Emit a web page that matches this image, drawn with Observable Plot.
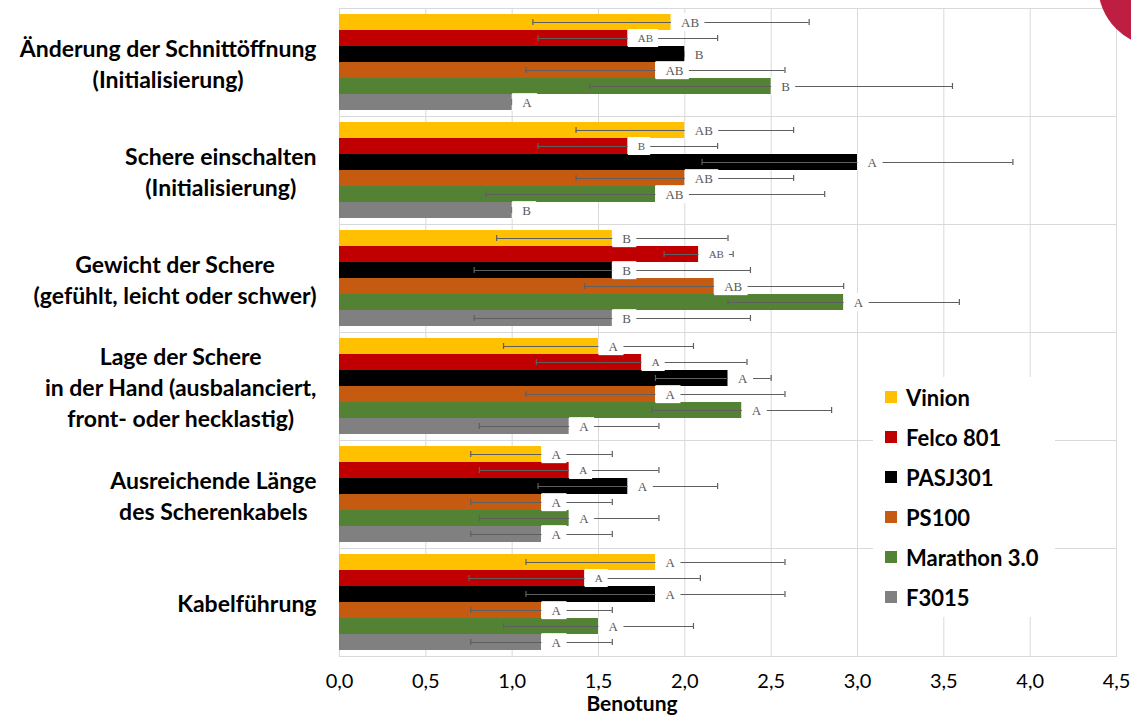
<!DOCTYPE html>
<html>
<head>
<meta charset="utf-8">
<script src="https://cdn.jsdelivr.net/npm/d3@7"></script>
<script src="https://cdn.jsdelivr.net/npm/@observablehq/plot@0.6"></script>
<style>
  body { margin: 0; background: #fff; }
  #wrap { position: relative; width: 1131px; height: 716px; overflow: hidden; font-family: Lato, "Open Sans", sans-serif; background: #fff; }
  #wrap svg { position: absolute; left: 0; top: 0; }
  #corner { position: absolute; left: 1098px; top: -77px; width: 124px; height: 124px; border-radius: 50%; background: #BD1E41; z-index: 5; }
  #xlabel { position: absolute; top: 692px; left: 532px; width: 200px; text-align: center; font-weight: bold; font-size: 21px; line-height: 21px; color: #000; }
  #legend { position: absolute; left: 873px; top: 377px; width: 182px; background: #fff; }
  #legend .row { height: 40px; display: flex; align-items: center; font-weight: bold; font-size: 22px; color: #000; white-space: nowrap; }
  #legend .sw { width: 12px; height: 12px; margin-left: 12px; margin-right: 9px; flex: none; }
</style>
</head>
<body>
<div id="wrap">
  <div id="corner"></div>
</div>
<script>
const categories = [
  "Änderung der Schnittöffnung\n(Initialisierung)",
  "Schere einschalten\n(Initialisierung)",
  "Gewicht der Schere\n(gefühlt, leicht oder schwer)",
  "Lage der Schere\nin der Hand (ausbalanciert,\nfront- oder hecklastig)",
  "Ausreichende Länge\ndes Scherenkabels",
  "Kabelführung"
];
const series = ["Vinion", "Felco 801", "PASJ301", "PS100", "Marathon 3.0", "F3015"];
const seriesColors = ["#FFC000", "#C00000", "#000000", "#C55A11", "#548235", "#808080"];

// mean ratings per series, one value per category
const vinion   = [1.92, 2.00, 1.58, 1.50, 1.17, 1.83];
const felco    = [1.67, 1.67, 2.08, 1.75, 1.33, 1.42];
const pasj     = [2.00, 3.00, 1.58, 2.25, 1.67, 1.83];
const ps100    = [1.83, 2.00, 2.17, 1.83, 1.17, 1.17];
const marathon = [2.50, 1.83, 2.92, 2.33, 1.33, 1.50];
const f3015    = [1.00, 1.00, 1.58, 1.33, 1.17, 1.17];

// error bars: lower and upper extents
const vinionErr   = [0.80, 0.63, 0.67, 0.55, 0.41, 0.75];
const felcoErr    = [0.52, 0.52, 0.20, 0.61, 0.52, 0.67];
const pasjErr     = [0.00, 0.90, 0.80, 0.42, 0.52, 0.75];
const pasjErrUp   = [0.00, 0.90, 0.80, 0.25, 0.52, 0.75];
const ps100Err    = [0.75, 0.63, 0.75, 0.75, 0.41, 0.41];
const marathonErr = [1.05, 0.98, 0.67, 0.52, 0.52, 0.55];
const f3015Err    = [0.00, 0.00, 0.80, 0.52, 0.41, 0.41];

// significance letters
const vinionL   = ["AB", "AB", "B", "A", "A", "A"];
const felcoL    = ["AB", "B", "AB", "A", "A", "A"];
const pasjL     = ["B", "A", "B", "A", "A", "A"];
const ps100L    = ["AB", "AB", "AB", "A", "A", "A"];
const marathonL = ["B", "AB", "A", "A", "A", "A"];
const f3015L    = ["A", "B", "B", "A", "A", "A"];

const xTicks = [0, 0.5, 1, 1.5, 2, 2.5, 3, 3.5, 4, 4.5];

const valueSets = [vinion, felco, pasj, ps100, marathon, f3015];
const errLowSets = [vinionErr, felcoErr, pasjErr, ps100Err, marathonErr, f3015Err];
const errUpSets = [vinionErr, felcoErr, pasjErrUp, ps100Err, marathonErr, f3015Err];
const letterSets = [vinionL, felcoL, pasjL, ps100L, marathonL, f3015L];

const rows = [];
categories.forEach((c, ci) => {
  series.forEach((s, si) => {
    rows.push({
      category: c, series: s, value: valueSets[si][ci],
      lo: valueSets[si][ci] - errLowSets[si][ci],
      hi: valueSets[si][ci] + errUpSets[si][ci],
      letter: letterSets[si][ci]
    });
  });
});

const chart = Plot.plot({
  width: 1131,
  height: 695,
  marginLeft: 339,
  marginRight: 15,
  marginTop: 7,
  marginBottom: 38,
  style: {fontFamily: "Lato, sans-serif", background: "white", overflow: "visible"},
  x: {domain: [0, 4.5]},
  y: {domain: series, paddingInner: 0, paddingOuter: 0.34, axis: null},
  fy: {domain: categories, padding: 0},
  color: {domain: series, range: seriesColors},
  marks: [
    Plot.gridX(xTicks, {stroke: "#d9d9d9", strokeOpacity: 1}),
    Plot.frame({stroke: "#d9d9d9"}),
    Plot.barX(rows, {x: "value", y: "series", fy: "category", fill: "series"}),
    Plot.ruleY(rows, {x1: "lo", x2: "hi", y: "series", fy: "category", stroke: "#5f5f5f", strokeWidth: 1.2}),
    Plot.tickX(rows, {x: "lo", y: "series", fy: "category", stroke: "#5f5f5f", strokeWidth: 1.2, insetTop: 5, insetBottom: 5}),
    Plot.tickX(rows, {x: "hi", y: "series", fy: "category", stroke: "#5f5f5f", strokeWidth: 1.2, insetTop: 5, insetBottom: 5}),
    Plot.text(rows, {x: "value", y: "series", fy: "category", text: "letter", textAnchor: "start", dx: 10, fill: "#595959",
      fontFamily: "Liberation Serif, serif", fontSize: d => d.series === "Felco 801" ? 11 : 13}),
    Plot.axisX({anchor: "bottom", ticks: xTicks, tickFormat: d => d.toFixed(1).replace(".", ","), tickSize: 0, tickPadding: 17, fontSize: 20, label: null}),
    Plot.axisFy({anchor: "left", tickSize: 0, tickPadding: 23, fontSize: 23, fontWeight: "bold", lineHeight: 1.35, label: null})
  ]
});

const wrap = document.getElementById("wrap");
wrap.insertBefore(chart, wrap.firstChild);

// center multi-line category labels within their right-aligned block
d3.select(chart).selectAll('g[aria-label="fy-axis tick label"] text').each(function() {
  const tspans = Array.from(this.querySelectorAll("tspan"));
  if (tspans.length > 1) {
    const w = d3.max(tspans, t => t.getComputedTextLength());
    this.setAttribute("text-anchor", "middle");
    tspans.forEach(t => t.setAttribute("x", -w / 2));
  }
});

// white label boxes behind the significance letters
d3.select(chart).selectAll("text").each(function() {
  const txt = this.textContent;
  if (!/^(A|B|AB)$/.test(txt)) return;
  const bb = this.getBBox();
  const cy = bb.y + bb.height / 2;
  const r = document.createElementNS("http://www.w3.org/2000/svg", "rect");
  r.setAttribute("x", bb.x - 10);
  r.setAttribute("y", cy - 9);
  r.setAttribute("width", bb.width + 15);
  r.setAttribute("height", 18);
  r.setAttribute("fill", "white");
  const tr = this.getAttribute("transform");
  if (tr) r.setAttribute("transform", tr);
  this.parentNode.insertBefore(r, this);
});

// legend
const legend = document.createElement("div");
legend.id = "legend";
series.forEach((s, i) => {
  const row = document.createElement("div");
  row.className = "row";
  const sw = document.createElement("span");
  sw.className = "sw";
  sw.style.background = seriesColors[i];
  row.appendChild(sw);
  row.appendChild(document.createTextNode(s));
  legend.appendChild(row);
});
wrap.appendChild(legend);

const xl = document.createElement("div");
xl.id = "xlabel";
xl.textContent = "Benotung";
wrap.appendChild(xl);
</script>
</body>
</html>
